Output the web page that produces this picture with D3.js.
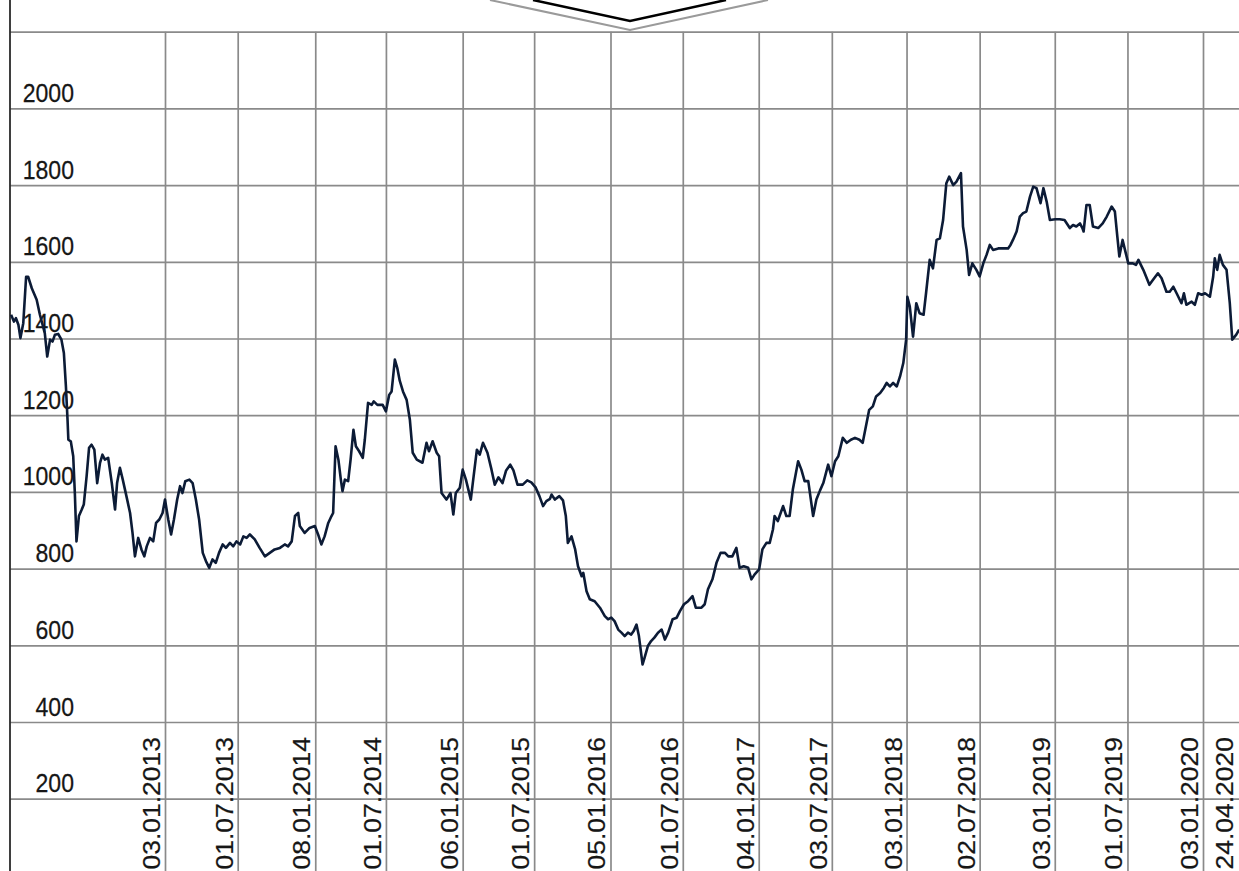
<!DOCTYPE html>
<html>
<head>
<meta charset="utf-8">
<script src="https://cdn.jsdelivr.net/npm/d3@7"></script>
<style>
html,body{margin:0;padding:0;background:#fff;overflow:hidden}
svg{display:block}
</style>
</head>
<body>
<svg id="chart" width="1239" height="871"></svg>
<script>
// ---- data ----
const dates = [
"2011-12-21","2011-12-28","2012-01-02","2012-01-08","2012-01-13","2012-01-20","2012-01-27","2012-02-01","2012-02-10","2012-02-22",
"2012-03-01","2012-03-13","2012-03-19","2012-03-26","2012-04-01","2012-04-07","2012-04-15","2012-04-23","2012-04-29","2012-05-04",
"2012-05-08","2012-05-10","2012-05-16","2012-05-22","2012-05-26","2012-05-30","2012-06-05","2012-06-12","2012-06-17","2012-06-24",
"2012-06-30","2012-07-06","2012-07-13","2012-07-20","2012-07-27","2012-08-02","2012-08-08","2012-08-16","2012-08-25","2012-09-02",
"2012-09-07","2012-09-14","2012-09-21","2012-09-30","2012-10-09","2012-10-15","2012-10-21","2012-10-29","2012-11-06","2012-11-13",
"2012-11-19","2012-11-27","2012-12-05","2012-12-12","2012-12-20","2012-12-28","2013-01-03","2013-01-11","2013-01-18","2013-01-25",
"2013-02-02","2013-02-09","2013-02-15","2013-02-22","2013-03-04","2013-03-12","2013-03-20","2013-03-28","2013-04-06","2013-04-14",
"2013-04-22","2013-04-30","2013-05-08","2013-05-16","2013-05-25","2013-06-02","2013-06-12","2013-06-20","2013-06-28","2013-07-07",
"2013-07-15","2013-07-23","2013-07-31","2013-08-12","2013-08-24","2013-09-06","2013-09-18","2013-09-30","2013-10-13","2013-10-25",
"2013-11-02","2013-11-11","2013-11-19","2013-11-27","2013-12-01","2013-12-13","2013-12-25","2014-01-07","2014-01-15","2014-01-23",
"2014-01-31","2014-02-09","2014-02-17","2014-02-21","2014-02-27","2014-03-06","2014-03-12","2014-03-16","2014-03-22","2014-03-30",
"2014-04-05","2014-04-12","2014-04-18","2014-04-26","2014-05-05","2014-05-10","2014-05-18","2014-05-27","2014-06-01","2014-06-10",
"2014-06-23","2014-07-01","2014-07-09","2014-07-15","2014-07-23","2014-07-29","2014-08-04","2014-08-12","2014-08-21","2014-08-29",
"2014-09-05","2014-09-15","2014-09-29","2014-10-09","2014-10-15","2014-10-24","2014-11-03","2014-11-09","2014-11-15","2014-11-27",
"2014-12-07","2014-12-14","2014-12-20","2014-12-30","2015-01-06","2015-01-14","2015-01-26","2015-02-02","2015-02-10","2015-02-17",
"2015-02-25","2015-03-08","2015-03-18","2015-03-26","2015-04-04","2015-04-14","2015-04-23","2015-05-03","2015-05-11","2015-05-21",
"2015-06-03","2015-06-14","2015-06-24","2015-07-05","2015-07-14","2015-07-23","2015-07-31","2015-08-09","2015-08-13","2015-08-21",
"2015-09-01","2015-09-10","2015-09-17","2015-09-22","2015-10-01","2015-10-10","2015-10-17","2015-10-26","2015-10-30","2015-11-07",
"2015-11-15","2015-11-27","2015-12-10","2015-12-22","2015-12-30","2016-01-07","2016-01-15","2016-01-24","2016-02-01","2016-02-09",
"2016-02-17","2016-02-25","2016-03-02","2016-03-09","2016-03-15","2016-03-24","2016-03-29","2016-04-06","2016-04-14","2016-04-22",
"2016-05-01","2016-05-10","2016-05-18","2016-05-26","2016-06-06","2016-06-16","2016-06-24","2016-07-04","2016-07-14","2016-07-25",
"2016-08-02","2016-08-16","2016-08-24","2016-09-01","2016-09-12","2016-09-22","2016-10-02","2016-10-13","2016-10-21","2016-10-31",
"2016-11-10","2016-11-18","2016-11-28","2016-12-09","2016-12-17","2016-12-25","2017-01-05","2017-01-13","2017-01-23","2017-01-31",
"2017-02-08","2017-02-12","2017-02-20","2017-03-05","2017-03-13","2017-03-21","2017-03-29","2017-04-11","2017-04-19","2017-04-27",
"2017-05-06","2017-05-18","2017-05-26","2017-06-04","2017-06-12","2017-06-24","2017-07-02","2017-07-11","2017-07-19","2017-07-30",
"2017-08-09","2017-08-19","2017-08-29","2017-09-09","2017-09-17","2017-09-25","2017-10-03","2017-10-12","2017-10-20","2017-10-30",
"2017-11-08","2017-11-15","2017-11-23","2017-12-01","2017-12-10","2017-12-18","2017-12-26","2018-01-02","2018-01-05","2018-01-11",
"2018-01-19","2018-01-27","2018-02-04","2018-02-14","2018-02-20","2018-03-01","2018-03-09","2018-03-18","2018-03-26","2018-04-03",
"2018-04-11","2018-04-18","2018-04-28","2018-05-06","2018-05-17","2018-05-22","2018-05-31","2018-06-06","2018-06-14","2018-06-24",
"2018-07-02","2018-07-11","2018-07-19","2018-07-27","2018-08-04","2018-08-17","2018-08-29","2018-09-10","2018-09-16","2018-09-22",
"2018-10-01","2018-10-09","2018-10-17","2018-10-25","2018-11-03","2018-11-11","2018-11-19","2018-11-29","2018-12-06","2018-12-14",
"2018-12-22","2019-01-04","2019-01-15","2019-01-27","2019-02-09","2019-02-17","2019-02-25","2019-03-06","2019-03-12","2019-03-15",
"2019-03-22","2019-03-30","2019-04-07","2019-04-20","2019-05-01","2019-05-11","2019-05-23","2019-05-31","2019-06-06","2019-06-11",
"2019-06-19","2019-06-27","2019-07-03","2019-07-14","2019-07-22","2019-07-28","2019-08-09","2019-08-24","2019-09-02","2019-09-14",
"2019-09-23","2019-10-05","2019-10-13","2019-10-22","2019-10-30","2019-11-11","2019-11-17","2019-11-23","2019-12-06","2019-12-14",
"2019-12-22","2019-12-31","2020-01-08","2020-01-20","2020-01-28","2020-02-01","2020-02-07","2020-02-13","2020-02-21","2020-03-01",
"2020-03-09","2020-03-15","2020-03-25","2020-04-01"
];
const values = [
1462,1444,1453,1436,1401,1440,1561,1561,1531,1501,
1462,1414,1353,1397,1392,1410,1412,1397,1362,1275,
1188,1136,1132,1093,997,871,937,954,967,1041,
1115,1123,1110,1023,1076,1097,1084,1089,1023,954,
1023,1063,1032,989,945,893,832,880,850,832,
858,880,871,919,928,945,980,928,889,928,
980,1015,997,1028,1032,1023,980,928,841,819,
802,824,815,841,863,854,867,858,871,863,
884,880,889,876,854,832,841,850,854,863,
858,871,937,945,911,893,906,911,889,863,
884,919,937,945,1119,1084,1032,1002,1032,1028,
1084,1162,1119,1106,1089,1136,1232,1227,1236,1227,
1227,1210,1253,1262,1345,1323,1290,1262,1240,1188,
1102,1084,1076,1128,1106,1132,1102,1093,997,980,
997,941,997,1011,1058,1032,980,1041,1110,1097,
1128,1102,1058,1019,1038,1023,1056,1071,1056,1019,
1019,1030,1025,1011,989,963,976,982,993,980,
989,978,937,867,884,850,806,780,789,741,
720,715,698,676,668,672,663,641,633,624,
633,628,637,654,624,550,568,598,611,620,
633,641,615,633,668,672,689,707,715,728,
698,698,707,746,772,815,841,841,832,832,
854,802,806,802,772,785,798,850,867,867,
902,937,924,963,937,937,1006,1080,1058,1028,
1028,937,980,1004,1023,1071,1041,1080,1093,1141,
1128,1136,1141,1136,1128,1171,1214,1223,1249,1258,
1271,1284,1275,1284,1275,1301,1336,1397,1509,1483,
1405,1492,1466,1462,1518,1605,1583,1657,1661,1709,
1805,1822,1800,1809,1831,1692,1631,1566,1596,1579,
1562,1596,1618,1644,1631,1635,1635,1635,1644,1657,
1679,1718,1727,1731,1770,1796,1792,1753,1792,1757,
1709,1711,1711,1709,1688,1696,1692,1700,1688,1679,
1748,1748,1692,1688,1700,1718,1744,1731,1666,1614,
1657,1622,1596,1596,1592,1605,1579,1540,1553,1570,
1557,1522,1522,1535,1518,1492,1518,1488,1496,1488,
1518,1514,1518,1509,1561,1609,1579,1618,1592,1579,
1492,1397,1410,1423
];
const tickLabels = ["03.01.2013","01.07.2013","08.01.2014","01.07.2014","06.01.2015","01.07.2015",
  "05.01.2016","01.07.2016","04.01.2017","03.07.2017","03.01.2018","02.07.2018",
  "03.01.2019","01.07.2019","03.01.2020","24.04.2020"];
const yLabelValues = [200,400,600,800,1000,1200,1400,1600,1800,2000];
const yGridValues = [200,400,600,800,1000,1200,1400,1600,1800,2000,2200];

// ---- drawing ----
const W = 1239, H = 871;
const parseISO = d3.timeParse("%Y-%m-%d");
const parseDMY = d3.timeParse("%d.%m.%Y");
const fmtDMY = d3.timeFormat("%d.%m.%Y");

const series = dates.map((d, i) => ({date: parseISO(d), value: values[i]}));
const ticks = tickLabels.map(parseDMY);

const svg = d3.select("#chart");
svg.append("rect").attr("width", W).attr("height", H).attr("fill", "#ffffff");

const x = d3.scaleTime()
  .domain([parseDMY("03.01.2013"), parseDMY("03.01.2020")])
  .range([165, 1203]);
const y = d3.scaleLinear().domain([200, 2200]).range([798.7, 31.7]);

const gridColor = "#8a8a8a";

// vertical grid lines
const gx = svg.append("g")
  .attr("transform", `translate(0,${H})`)
  .call(d3.axisTop(x).tickValues(ticks).tickSize(H - y(2200)).tickFormat(""));
gx.select(".domain").remove();
gx.selectAll(".tick line").attr("stroke", gridColor).attr("stroke-width", 1.7);

// horizontal grid lines
const gy = svg.append("g")
  .attr("transform", "translate(10,0)")
  .call(d3.axisRight(y).tickValues(yGridValues).tickSize(W - 10).tickFormat(""));
gy.select(".domain").remove();
gy.selectAll(".tick line").attr("stroke", gridColor).attr("stroke-width", 1.7);

// left axis line
svg.append("line")
  .attr("x1", 10).attr("x2", 10).attr("y1", 0).attr("y2", H)
  .attr("stroke", "#2a2a2a").attr("stroke-width", 1.8);

// top chevron decoration
svg.append("path")
  .attr("d", "M490,0 L630,30 L768,0")
  .attr("fill", "none").attr("stroke", "#9a9a9a").attr("stroke-width", 2);
svg.append("path")
  .attr("d", "M533,0 L630,21 L726,0")
  .attr("fill", "none").attr("stroke", "#000").attr("stroke-width", 2.5);

const fontFam = "'Liberation Sans', Arial, sans-serif";
const fs = 26.5, sx = 0.87;

// y labels (sitting just above their grid lines)
svg.append("g").selectAll("text").data(yLabelValues).join("text")
  .attr("transform", d => `translate(74,${y(d) - 6.5}) scale(${sx},1)`)
  .attr("text-anchor", "end")
  .attr("font-family", fontFam)
  .attr("font-size", fs)
  .attr("fill", "#161616")
  .attr("stroke", "#161616").attr("stroke-width", 0.25)
  .text(d => d);

// date labels (rotated, just left of their grid lines, kept inside the frame)
svg.append("g").selectAll("text").data(ticks).join("text")
  .attr("transform", d => `translate(${Math.min(x(d) - 5, W - 6)},737) scale(${sx},1) rotate(-90)`)
  .attr("text-anchor", "end")
  .attr("font-family", fontFam)
  .attr("font-size", fs)
  .attr("fill", "#161616")
  .attr("stroke", "#161616").attr("stroke-width", 0.25)
  .text(d => fmtDMY(d));

// data line
const line = d3.line().x(d => x(d.date)).y(d => y(d.value));
svg.append("path")
  .datum(series)
  .attr("d", line)
  .attr("fill", "none")
  .attr("stroke", "#0c1b36")
  .attr("stroke-width", 2.6)
  .attr("stroke-linejoin", "round");
</script>
</body>
</html>
